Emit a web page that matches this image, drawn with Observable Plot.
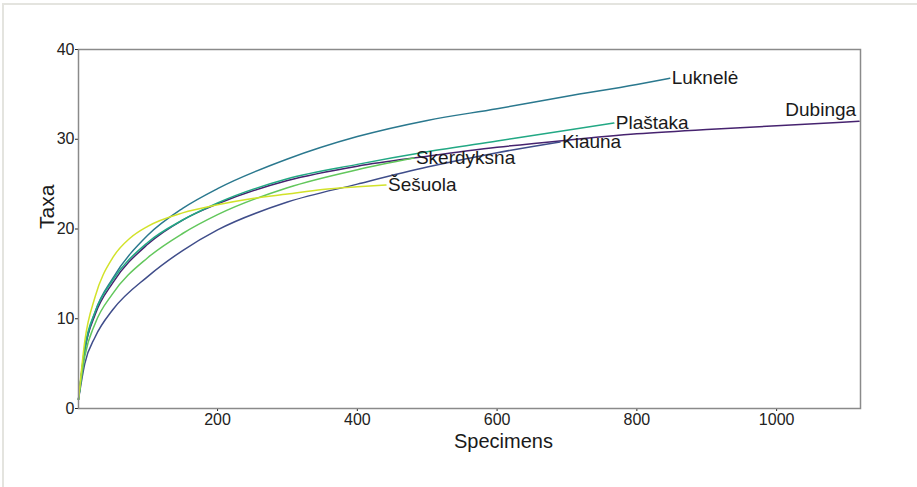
<!DOCTYPE html>
<html><head><meta charset="utf-8">
<script src="https://cdn.jsdelivr.net/npm/d3@7"></script>
<script src="https://cdn.jsdelivr.net/npm/@observablehq/plot@0.6"></script>
<style>
body{margin:0;background:#fff;}
#wrap{position:relative;width:917px;height:487px;overflow:hidden;background:#fff;}
#border{position:absolute;left:2px;top:3px;width:930px;height:500px;border-top:2px solid #e4e4df;border-left:2px solid #e4e4df;pointer-events:none;}
#chart{position:absolute;left:0;top:0;}
</style></head><body>
<div id="wrap"><div id="chart"></div><div id="border"></div></div>
<script>
const sites = ["Dubinga", "Kiauna", "Luknelė", "Plaštaka", "Skerdyksna", "Šešuola"];
const colors = ["#46236f", "#3f4d8a", "#2a788e", "#22a884", "#62c75c", "#d2e22a"];

const dubingaX = [1, 10, 25, 50, 100, 150, 200, 300, 400, 500, 600, 700, 800, 900, 1000, 1118];
const dubingaY = [1, 6.5, 10.5, 14, 18.3, 21, 22.8, 25.4, 27, 28.1, 29.1, 29.9, 30.6, 31.1, 31.5, 32];

const kiaunaX = [1, 10, 25, 50, 100, 150, 200, 300, 400, 500, 600, 690];
const kiaunaY = [1, 5, 8, 11, 14.7, 17.6, 19.9, 23, 25, 26.9, 28.5, 29.7];

const luknelX = [1, 10, 25, 50, 100, 150, 200, 300, 400, 500, 600, 700, 800, 847];
const luknelY = [1, 6.5, 10.8, 14.5, 19.3, 22.3, 24.5, 27.8, 30.3, 32.1, 33.4, 34.8, 36.1, 36.8];

const plastakaX = [1, 10, 25, 50, 100, 150, 200, 300, 400, 500, 600, 700, 767];
const plastakaY = [1, 6.8, 10.8, 14.3, 18.5, 21, 22.9, 25.6, 27.2, 28.6, 29.8, 31, 31.8];

const skerdyksnaX = [1, 10, 25, 50, 100, 150, 200, 300, 400, 481];
const skerdyksnaY = [1, 5.8, 9.5, 12.8, 16.8, 19.5, 21.6, 24.6, 26.6, 27.9];

const sesuolaX = [1, 10, 25, 50, 75, 100, 150, 200, 250, 300, 350, 400, 441];
const sesuolaY = [1, 7.5, 12.5, 16.8, 19, 20.3, 21.8, 22.7, 23.4, 23.9, 24.4, 24.7, 24.9];

const xTicks = [200, 400, 600, 800, 1000];
const yTicks = [0, 10, 20, 30, 40];

const seriesX = [dubingaX, kiaunaX, luknelX, plastakaX, skerdyksnaX, sesuolaX];
const seriesY = [dubingaY, kiaunaY, luknelY, plastakaY, skerdyksnaY, sesuolaY];

const rows = [];
sites.forEach((s, i) => seriesX[i].forEach((x, j) => rows.push({site: s, x, y: seriesY[i][j]})));
const ends = sites.map((s, i) => ({site: s, x: seriesX[i][seriesX[i].length - 1], y: seriesY[i][seriesY[i].length - 1]}));

const font = "'Liberation Sans', Arial, sans-serif";
const chart = Plot.plot({
  width: 917, height: 487,
  marginLeft: 78, marginRight: 57, marginTop: 49, marginBottom: 79,
  style: {fontFamily: font, fontSize: "16px", color: "#222", background: "transparent"},
  x: {domain: [1, 1120], ticks: xTicks, tickFormat: d => String(d), tickSize: 3, tickPadding: 2, label: null},
  y: {domain: [0, 40], ticks: yTicks, tickFormat: d => String(d), tickSize: 3, tickPadding: 1, label: null},
  color: {domain: sites, range: colors},
  marks: [
    Plot.line(rows, {x: "x", y: "y", z: "site", stroke: "site", strokeWidth: 1.5, curve: "monotone-x"}),
    Plot.frame({stroke: "#8a8a8a", strokeWidth: 1.5}),
    Plot.text(ends.filter(d => d.site !== "Dubinga"), {x: "x", y: "y", text: "site", textAnchor: "start", dx: 2, fontSize: 19, fill: "#1a1a1a"}),
    Plot.text(ends.filter(d => d.site === "Dubinga"), {x: "x", y: "y", text: "site", textAnchor: "end", dx: -3, dy: -11, fontSize: 19, fill: "#1a1a1a"}),
    Plot.text(["Specimens"], {frameAnchor: "bottom", dx: 34, dy: 39, fontSize: 20, fill: "#1a1a1a"}),
    Plot.text(["Taxa"], {frameAnchor: "left", dx: -31, rotate: -90, fontSize: 21, fill: "#1a1a1a"})
  ]
});
document.getElementById("chart").appendChild(chart);
</script>
</body></html>
